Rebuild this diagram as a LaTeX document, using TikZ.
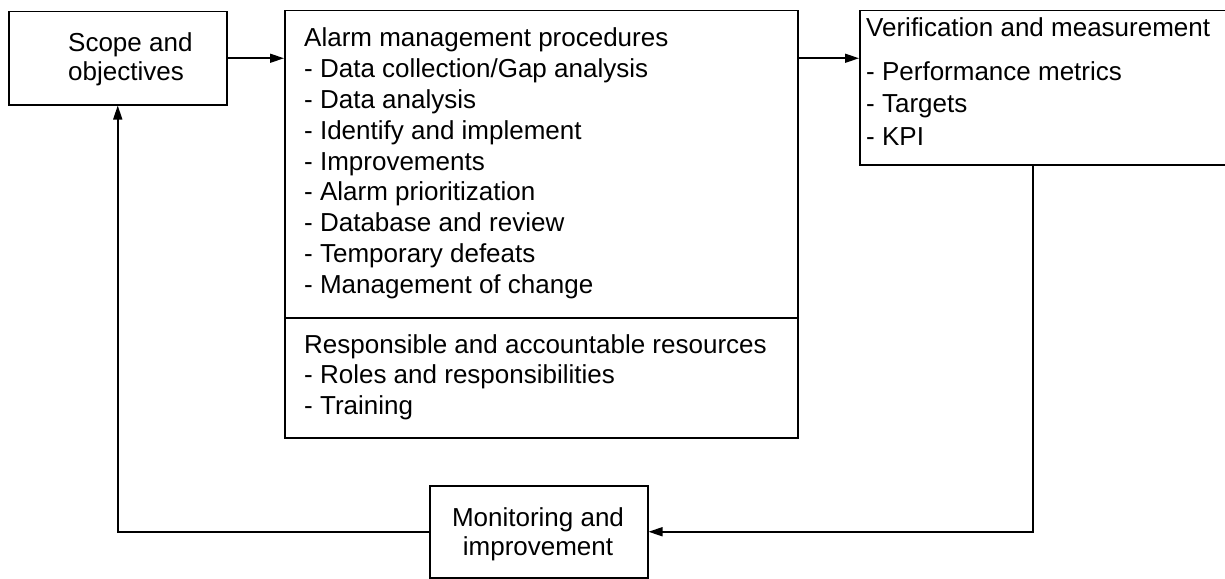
\documentclass[tikz,border=0pt]{standalone}
\usepackage{fontspec}
\setmainfont{Liberation Sans}
\usetikzlibrary{arrows.meta,calc}
\begin{document}
\begin{tikzpicture}[x=1pt,y=-1pt,
  box/.style={draw,line width=1.5pt,rectangle,inner sep=0pt,anchor=north west},
  txt/.style={inner sep=0pt,anchor=base west,font=\fontsize{26}{30}\selectfont},
  ctxt/.style={inner sep=0pt,anchor=base,font=\fontsize{26}{30}\selectfont},
  arr/.style={line width=1.5pt,-{Triangle[length=14pt,width=9pt]}},
  conn/.style={line width=1.5pt}]
\useasboundingbox (0,0) rectangle (1225,578);
\clip (0,0) rectangle (1225,578);

% boxes
\node[box,minimum width=218pt,minimum height=93pt] (scope) at (8,11) {};
\node[box,minimum width=513pt,minimum height=427pt] (main) at (284,10) {};
\node[box,minimum width=400pt,minimum height=154pt] (verif) at (859,10) {};
\node[box,minimum width=218pt,minimum height=92pt] (mon) at (429,485) {};
\coordinate (divL) at (284,318);
\coordinate (divR) at (797,318);
\draw[conn] (divL) -- (divR);

% scope text
\node[txt] (s1) at (68,52) {Scope and};
\node[txt] (s2) at (68,80) {objectives};

% procedures
\foreach \t [count=\i from 0] in {Alarm management procedures,
  - Data collection/Gap analysis, - Data analysis, - Identify and implement,
  - Improvements, - Alarm prioritization, - Database and review,
  - Temporary defeats, - Management of change}
  \node[txt] (p\i) at (304,47+30.75*\i) {\t};

% resources
\foreach \t [count=\i from 0] in {Responsible and accountable resources,
  - Roles and responsibilities, - Training}
  \node[txt] (r\i) at (304,353+30.5*\i) {\t};

% verification
\node[txt] (v0) at (866,37) {Verification and measurement};
\node[txt] (v1) at (866,80) {- Performance metrics};
\node[txt] (v2) at (866,112) {- Targets};
\node[txt] (v3) at (866,145) {- KPI};

% monitoring
\node[ctxt] (m1) at (538,526) {Monitoring and};
\node[ctxt] (m2) at (538,555) {improvement};

% connectors
\coordinate (vdown) at ($(verif.south west)+(174,0)$);
\draw[arr] (scope.east) -- (scope.east -| main.west);
\draw[arr] (main.east |- scope.east) -- (verif.west |- scope.east);
\draw[arr] (vdown) |- (mon.east);
\draw[arr] (mon.west) -| (scope.south);
\end{tikzpicture}
\end{document}
